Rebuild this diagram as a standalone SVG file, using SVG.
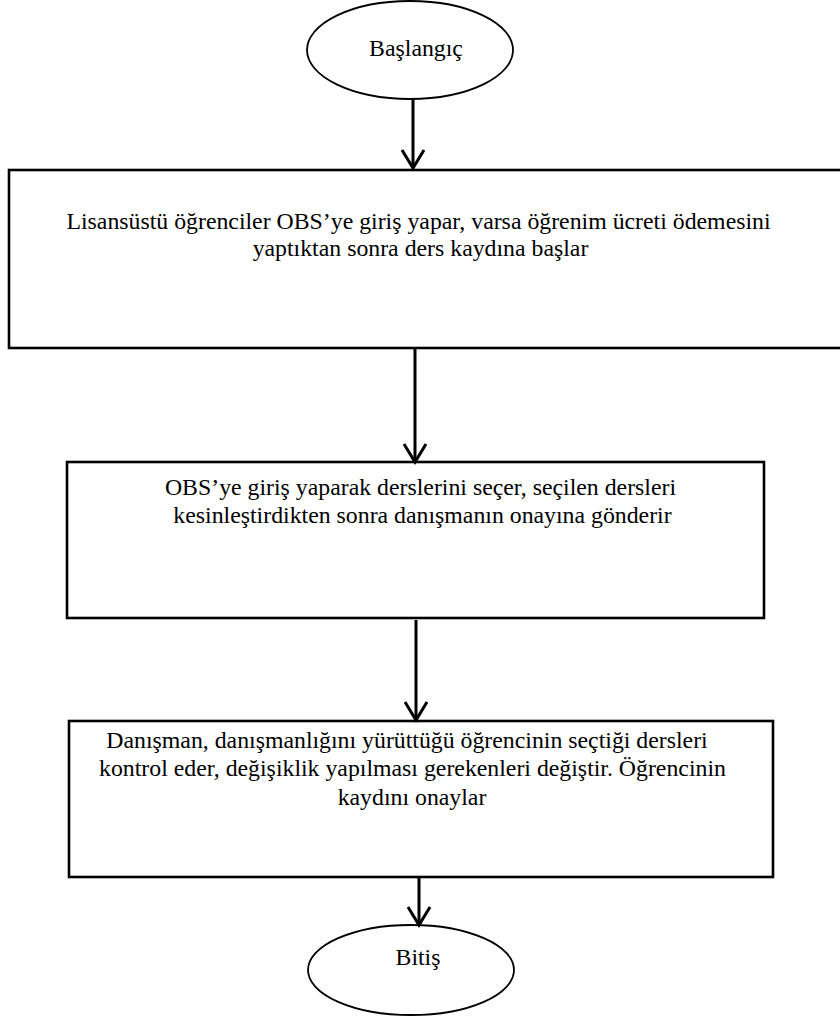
<svg xmlns="http://www.w3.org/2000/svg" width="840" height="1022" viewBox="0 0 840 1022">
<style>
.box{fill:#fff;stroke:#000;stroke-width:2.6}
.term{fill:#fff;stroke:#000;stroke-width:1.8}
.lbl{font-family:"Liberation Serif",serif;font-size:23.8px;fill:#000;text-anchor:middle}
.conn line{stroke:#000;stroke-width:3}
.conn path{fill:none;stroke:#000;stroke-width:3;stroke-linejoin:miter}
</style>
<rect width="840" height="1022" fill="#fff"/>
<g id="start">
<ellipse class="term" cx="410" cy="50" rx="103" ry="49"/>
<text class="lbl" x="416" y="56">Başlangıç</text>
</g>
<g id="step1">
<rect class="box" x="9" y="170" width="840" height="178"/>
<text class="lbl" x="418.5" y="229">Lisansüstü öğrenciler OBS’ye giriş yapar, varsa öğrenim ücreti ödemesini</text>
<text class="lbl" x="420.5" y="256">yaptıktan sonra ders kaydına başlar</text>
</g>
<g id="step2">
<rect class="box" x="67" y="462" width="697" height="156"/>
<text class="lbl" x="420.5" y="495">OBS’ye giriş yaparak derslerini seçer, seçilen dersleri</text>
<text class="lbl" x="422.5" y="523">kesinleştirdikten sonra danışmanın onayına gönderir</text>
</g>
<g id="step3">
<rect class="box" x="69" y="721" width="704" height="156"/>
<text class="lbl" x="407" y="748">Danışman, danışmanlığını yürüttüğü öğrencinin seçtiği dersleri</text>
<text class="lbl" x="412.5" y="776">kontrol eder, değişiklik yapılması gerekenleri değiştir. Öğrencinin</text>
<text class="lbl" x="412" y="805">kaydını onaylar</text>
</g>
<g id="end">
<ellipse class="term" cx="411" cy="970" rx="103" ry="45"/>
<text class="lbl" x="418" y="965">Bitiş</text>
</g>
<g id="connectors" class="conn">
<line x1="413" y1="100" x2="413" y2="168"/>
<path d="M402,150 L413,168 L424,150"/>
<line x1="415" y1="348" x2="415" y2="461"/>
<path d="M404,444 L415,462 L426,444"/>
<line x1="416" y1="620" x2="416" y2="719"/>
<path d="M405,702 L416,720 L427,702"/>
<line x1="419" y1="877" x2="419" y2="924"/>
<path d="M408,907 L419,925 L430,907"/>
</g>
</svg>
